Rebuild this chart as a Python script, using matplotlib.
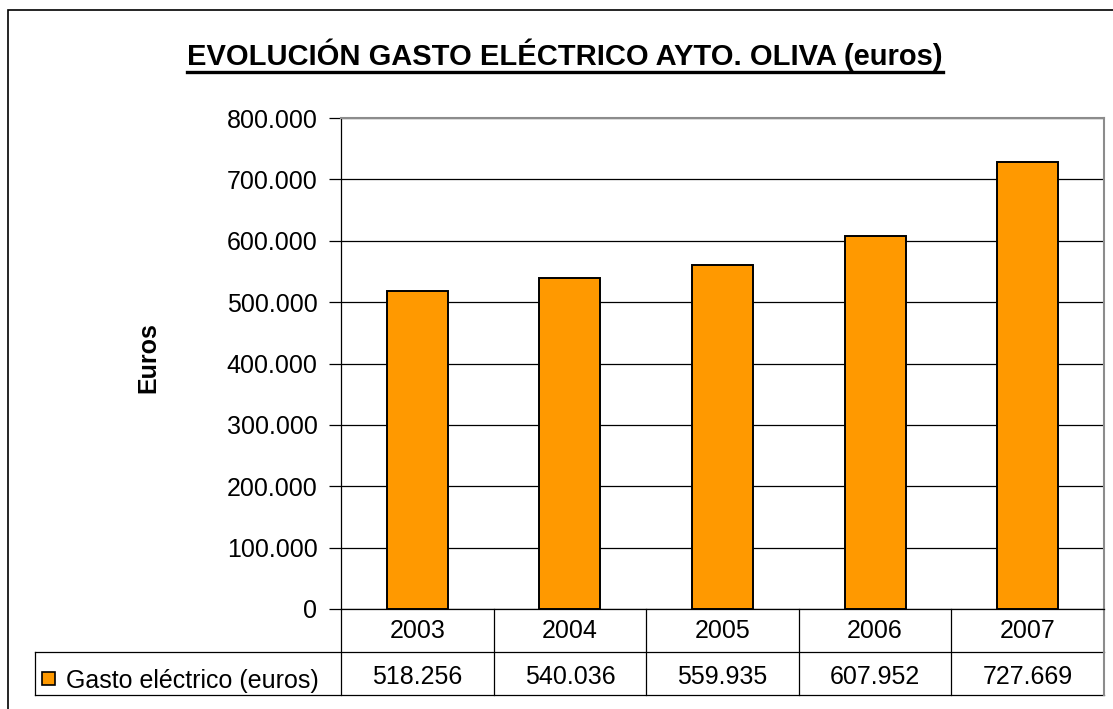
import matplotlib

matplotlib.use("Agg")

import matplotlib.pyplot as plt
from matplotlib.patches import Rectangle
from matplotlib.ticker import FuncFormatter

years = ["2003", "2004", "2005", "2006", "2007"]
gasto = [518256, 540036, 559935, 607952, 727669]
series_name = "Gasto eléctrico (euros)"
title = "EVOLUCIÓN GASTO ELÉCTRICO AYTO. OLIVA (euros)"
y_label = "Euros"
y_ticks = [0, 100000, 200000, 300000, 400000, 500000, 600000, 700000, 800000]

W, H = 1113, 709
ORANGE = "#FF9900"
GRAY = "#8c8c8c"

plt.rcParams["font.family"] = ["Liberation Sans", "DejaVu Sans"]


def dots(v, _pos=None):
    return f"{v:,.0f}".replace(",", ".")


fig = plt.figure(figsize=(W / 100, H / 100), dpi=100)

# outer chart frame (cut off on the right and bottom)
fig.patches.append(Rectangle((8 / W, -0.1), 1.2, 1 - 10 / H + 0.1, transform=fig.transFigure,
                             fill=False, edgecolor="black", linewidth=1.2))

left, right, top, bottom = 341, 1104, 118, 609
ax = fig.add_axes([left / W, 1 - bottom / H, (right - left) / W, (bottom - top) / H])

x = list(range(len(years)))
ax.bar(x, gasto, width=0.4, color=ORANGE, edgecolor="black", linewidth=1.4, zorder=3)
ax.set_xlim(-0.5, len(years) - 0.5)
ax.set_ylim(0, 800000)
ax.set_yticks(y_ticks)
ax.yaxis.set_major_formatter(FuncFormatter(dots))
ax.yaxis.grid(True, color="black", linewidth=0.9, zorder=0)
ax.set_xticks([])
ax.tick_params(axis="y", labelsize=18, length=9, width=0.9, direction="out", pad=8)
for side in ("top", "right"):
    ax.spines[side].set_color(GRAY)
    ax.spines[side].set_linewidth(1.5)
for side in ("left", "bottom"):
    ax.spines[side].set_color("black")
    ax.spines[side].set_linewidth(0.9)

fig.text(148 / W, 1 - 358 / H, y_label, rotation=90, ha="center", va="center",
         fontsize=18, fontweight="bold")

# title with underline
t = fig.text(565 / W, 1 - 65 / H, title, ha="center", va="baseline",
             fontsize=21, fontweight="bold")
fig.canvas.draw()
bb = t.get_window_extent()
uy = (bb.y0 + 2) / H
fig.add_artist(plt.Line2D([bb.x0 / W, bb.x1 / W], [uy - 3 / H, uy - 3 / H],
                          transform=fig.transFigure, color="black", linewidth=2.4))

# data table below the plot
row_h = 43 / (bottom - top)
legend_x0 = (35 - left) / (right - left)
n = len(years)
kw = dict(transform=ax.transAxes, clip_on=False, color="black", linewidth=0.9)
for i in range(1, n):
    ax.plot([i / n, i / n], [0, -2 * row_h], **kw)
ax.plot([0, 0], [0, -2 * row_h], **kw)
ax.plot([legend_x0, 1], [-row_h, -row_h], **kw)
ax.plot([legend_x0, 1], [-2 * row_h, -2 * row_h], **kw)
ax.plot([legend_x0, legend_x0], [-row_h, -2 * row_h], **kw)
ax.plot([1, 1], [0, -2 * row_h], transform=ax.transAxes, clip_on=False,
        color=GRAY, linewidth=1.5)

shift = 4 / (bottom - top)
for i, (yr, v) in enumerate(zip(years, gasto)):
    cx = (i + 0.5) / n
    ax.text(cx, -0.5 * row_h, yr, transform=ax.transAxes, ha="center", va="center",
            fontsize=18)
    ax.text(cx, -1.5 * row_h - shift, dots(v), transform=ax.transAxes, ha="center",
            va="center", fontsize=18)

sq = 13
fig.patches.append(Rectangle((42 / W, 1 - 685 / H), sq / W, sq / H, transform=fig.transFigure,
                             facecolor=ORANGE, edgecolor="black", linewidth=1.2))
fig.text(66 / W, 1 - 681 / H, series_name, ha="left", va="center", fontsize=18)

fig.savefig("out.png", dpi=100, facecolor="white")
